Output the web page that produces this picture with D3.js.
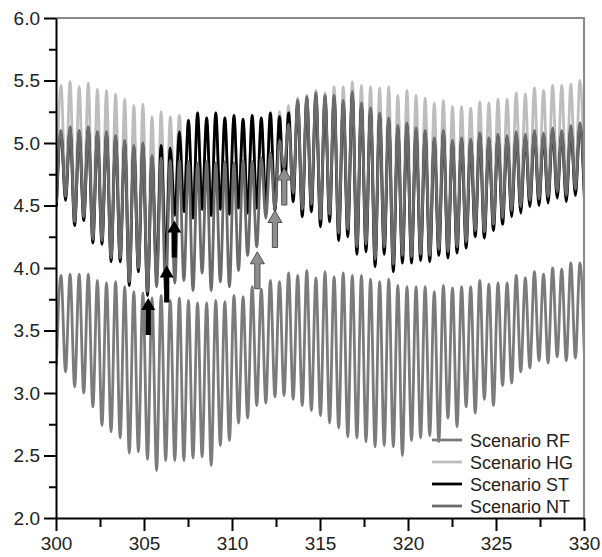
<!DOCTYPE html>
<html>
<head>
<meta charset="utf-8">
<script src="https://cdn.jsdelivr.net/npm/d3@7"></script>
<style>
  body { margin: 0; background: #fff; }
  svg { display: block; font-family: "Liberation Sans", Arial, sans-serif; }
  .tick text { font-size: 19px; fill: #222; }
  .legend text { font-size: 18px; fill: #222; }
</style>
</head>
<body>
<svg id="chart" width="602" height="557"></svg>
<script>
// time axis ticks
const xTicks = [300, 305, 310, 315, 320, 325, 330];
const xMinor = [302.5, 307.5, 312.5, 317.5, 322.5, 327.5];
const yTicks = [2.0, 2.5, 3.0, 3.5, 4.0, 4.5, 5.0, 5.5, 6.0];
const yMinor = [2.25, 2.75, 3.25, 3.75, 4.25, 4.75, 5.25, 5.75];

// tidal cycles: first low water and the period
const cycleStart = 300.025, cyclePeriod = 0.5173;

// high and low water of each cycle, per scenario
const rfPeaks = [3.94,3.95,3.95,3.95,3.90,3.88,3.89,3.85,3.81,3.80,
  3.76,3.78,3.74,3.76,3.74,3.72,3.72,3.74,3.73,3.78,
  3.77,3.85,3.83,3.90,3.89,3.96,3.94,3.98,3.92,3.97,
  3.93,3.96,3.94,3.94,3.91,3.89,3.91,3.86,3.85,3.85,
  3.85,3.81,3.86,3.84,3.85,3.85,3.90,3.87,3.88,3.88,
  3.94,3.92,3.97,3.95,4.00,3.99,4.04,4.04];
const rfTroughs = [3.22,3.17,3.05,3.00,2.89,2.74,2.69,2.64,2.52,2.53,
  2.47,2.38,2.46,2.46,2.46,2.48,2.49,2.42,2.58,2.62,
  2.76,2.80,2.90,2.92,2.97,2.98,2.95,2.90,2.86,2.82,
  2.76,2.72,2.65,2.64,2.61,2.57,2.58,2.57,2.50,2.62,
  2.64,2.66,2.61,2.80,2.73,2.89,2.84,2.95,2.90,3.06,
  3.08,3.17,3.20,3.26,3.24,3.29,3.26,3.28,3.26];

const hgPeaks = [5.46,5.49,5.45,5.48,5.43,5.42,5.39,5.35,5.30,5.31,5.21,
  5.25,5.21,5.22,5.15,5.21,5.17,5.21,5.17,5.19,5.16,5.19,5.17,5.21,5.25,
  5.30,5.36,5.38,5.42,5.40,5.45,5.45,5.49,5.46,5.45,5.44,5.45,5.38,5.42,
  5.38,5.36,5.32,5.34,5.29,5.29,5.28,5.33,5.32,5.35,5.35,5.40,5.39,5.44,5.42,5.46,5.46,5.47,5.50];
const hgTroughs = [4.57,4.62,4.42,4.46,4.28,4.27,4.13,4.13,3.94,4.05,3.86,
  4.00,4.10,4.47,4.50,4.45,4.52,4.47,4.52,4.48,4.53,4.49,4.53,4.55,4.51,4.57,4.65,
  4.52,4.56,4.44,4.48,4.33,4.36,4.22,4.24,4.12,4.22,4.08,4.15,
  4.14,4.16,4.15,4.20,4.18,4.22,4.26,4.35,4.34,4.40,4.45,4.51,4.54,4.59,4.60,4.62,4.66,4.63,4.68,4.63];

const stPeaks = [5.08,5.11,5.08,5.11,5.07,5.07,5.04,5.00,4.96,4.98,4.88,
  4.98,4.96,5.09,5.18,5.24,5.20,5.24,5.20,5.22,5.19,5.22,5.20,5.24,5.21,5.24,
  5.32,5.35,5.38,5.36,5.36,5.32,5.39,5.30,5.26,5.22,5.18,5.12,5.14,
  5.10,5.08,5.02,5.08,5.00,5.02,5.01,5.06,5.02,5.05,5.04,5.07,5.05,5.08,5.06,5.10,5.08,5.12,5.14];
const stTroughs = [4.49,4.54,4.34,4.38,4.20,4.19,4.05,4.05,3.86,3.97,3.78,
  3.93,4.05,4.42,4.45,4.40,4.47,4.42,4.47,4.43,4.48,4.44,4.48,4.50,4.46,4.52,4.53,
  4.41,4.45,4.33,4.37,4.22,4.25,4.11,4.13,4.01,4.11,3.97,4.04,
  4.04,4.06,4.05,4.10,4.08,4.12,4.16,4.25,4.24,4.30,4.35,4.41,4.44,4.49,4.50,4.52,4.56,4.53,4.58,4.53];

const ntPeaks = [5.10,5.13,5.10,5.13,5.09,5.09,5.06,5.02,4.98,5.00,4.90,
  4.88,4.86,4.86,4.85,4.84,4.85,4.84,4.85,4.84,4.86,4.85,4.88,4.92,5.02,5.15,
  5.34,5.37,5.40,5.38,5.38,5.34,5.41,5.32,5.28,5.24,5.20,5.14,5.16,
  5.12,5.10,5.04,5.10,5.02,5.04,5.03,5.08,5.04,5.07,5.06,5.09,5.07,5.10,5.08,5.12,5.10,5.14,5.16];
const ntTroughs = [4.52,4.57,4.37,4.41,4.23,4.22,4.08,4.08,3.89,4.00,3.81,
  3.85,3.80,3.88,3.90,3.82,3.96,3.82,3.89,3.85,3.98,4.10,4.17,4.40,4.47,4.80,4.60,
  4.47,4.51,4.39,4.43,4.28,4.31,4.17,4.19,4.07,4.17,4.03,4.10,
  4.09,4.11,4.10,4.15,4.13,4.17,4.21,4.30,4.29,4.35,4.40,4.46,4.49,4.54,4.55,4.57,4.61,4.58,4.63,4.58];

// arrows marking the changes (time, level of the tip)
const stArrowT = [305.24, 306.29, 306.72], stArrowV = [3.76, 4.02, 4.38];
const ntArrowT = [311.44, 312.44, 312.97], ntArrowV = [4.13, 4.46, 4.80];

const names = ['Scenario RF', 'Scenario HG', 'Scenario ST', 'Scenario NT'];
const colors = ['#7b7b7b', '#bdbdbd', '#000000', '#6b6b6b'];

const margin = {top: 18, right: 18, bottom: 39, left: 56};
const width = 602, height = 557;

const svg = d3.select('#chart');
const x = d3.scaleLinear().domain([300, 330]).range([margin.left, width - margin.right]);
const y = d3.scaleLinear().domain([2, 6]).range([height - margin.bottom, margin.top]);

function buildSeries(peaks, troughs) {
  const pts = [];
  for (let j = 0; j < troughs.length; j++) {
    pts.push([cycleStart + j * cyclePeriod, troughs[j]]);
    if (j < peaks.length) pts.push([cycleStart + (j + 0.5) * cyclePeriod, peaks[j]]);
  }
  return pts;
}
const series = [
  buildSeries(rfPeaks, rfTroughs),
  buildSeries(hgPeaks, hgTroughs),
  buildSeries(stPeaks, stTroughs),
  buildSeries(ntPeaks, ntTroughs)
];

svg.append('clipPath').attr('id', 'plot')
  .append('rect')
  .attr('x', x(300)).attr('y', y(6))
  .attr('width', x(330) - x(300)).attr('height', y(2) - y(6));

const line = d3.line()
  .x(d => x(d[0]))
  .y(d => y(d[1]))
  .curve(d3.curveMonotoneX);

svg.append('g').attr('clip-path', 'url(#plot)')
  .selectAll('path')
  .data(series)
  .join('path')
  .attr('d', line)
  .attr('fill', 'none')
  .attr('stroke', (d, i) => colors[i])
  .attr('stroke-width', 2.8)
  .attr('stroke-linejoin', 'round');

// arrows
function arrow(px, py) {
  const len = 37, hh = 12, hw = 7, sw = 2.6;
  return `M${px},${py} L${px + hw},${py + hh} L${px + sw},${py + hh} L${px + sw},${py + len}` +
    ` L${px - sw},${py + len} L${px - sw},${py + hh} L${px - hw},${py + hh} Z`;
}
svg.append('g').selectAll('path')
  .data(d3.range(stArrowT.length))
  .join('path')
  .attr('d', i => arrow(x(stArrowT[i]), y(stArrowV[i])))
  .attr('fill', '#000');
svg.append('g').selectAll('path')
  .data(d3.range(ntArrowT.length))
  .join('path')
  .attr('d', i => arrow(x(ntArrowT[i]), y(ntArrowV[i])))
  .attr('fill', '#8f8f8f')
  .attr('stroke', '#505050')
  .attr('stroke-width', 1);

// frame top/right
svg.append('path')
  .attr('d', `M${x(300)},${y(6)} H${x(330)} V${y(2)}`)
  .attr('fill', 'none').attr('stroke', '#8a8a8a').attr('stroke-width', 2);

// axes
const yAxis = svg.append('g')
  .attr('transform', `translate(${x(300)},0)`)
  .call(d3.axisLeft(y).tickValues(yTicks).tickSize(12).tickSizeOuter(0).tickPadding(4).tickFormat(d3.format('.1f')));
svg.append('g')
  .attr('transform', `translate(${x(300)},0)`)
  .call(d3.axisLeft(y).tickValues(yMinor).tickSize(7).tickSizeOuter(0).tickFormat(''))
  .select('.domain').remove();
const xAxis = svg.append('g')
  .attr('transform', `translate(0,${y(2)})`)
  .call(d3.axisBottom(x).tickValues(xTicks).tickSize(13).tickSizeOuter(0).tickPadding(6).tickFormat(d3.format('d')));
svg.append('g')
  .attr('transform', `translate(0,${y(2)})`)
  .call(d3.axisBottom(x).tickValues(xMinor).tickSize(9).tickSizeOuter(0).tickFormat(''))
  .select('.domain').remove();
svg.selectAll('.domain').attr('stroke', '#000').attr('stroke-width', 2);
svg.selectAll('.tick line').attr('stroke', '#000').attr('stroke-width', 2);
svg.selectAll('.tick text').attr('font-family', null).attr('font-size', null);

// legend
const legend = svg.append('g').attr('class', 'legend');
const rows = legend.selectAll('g')
  .data(names)
  .join('g')
  .attr('transform', (d, i) => `translate(432,${440 + i * 22})`);
rows.append('line')
  .attr('x1', 0).attr('x2', 30)
  .attr('stroke', (d, i) => colors[i])
  .attr('stroke-width', 2.8);
rows.append('text')
  .attr('x', 38)
  .attr('y', 6.5)
  .text(d => d);
</script>
</body>
</html>
